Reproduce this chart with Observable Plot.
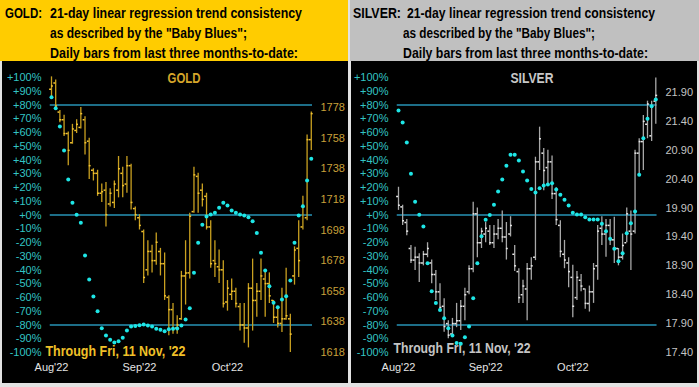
<!DOCTYPE html>
<html><head><meta charset="utf-8">
<script src="https://cdn.jsdelivr.net/npm/d3@7"></script>
<script src="https://cdn.jsdelivr.net/npm/@observablehq/plot@0.6"></script>
<style>
html,body{margin:0;padding:0;}
body{width:699px;height:387px;background:#e2e2e2;position:relative;overflow:hidden;}
.hdr{position:absolute;top:0;height:61px;overflow:hidden;}
.hdr div{position:absolute;font-family:"Liberation Sans",Arial,sans-serif;font-weight:bold;font-size:14.5px;line-height:20px;color:#000;white-space:nowrap;transform-origin:0 0;}
.panel{position:absolute;top:61px;width:346px;height:322px;background:#000;}
.panel svg{position:absolute;left:0;top:0;}
</style></head><body>
<div class="hdr" style="left:0;width:348px;background:#FFCC00;">
  <div data-w="37" style="left:5px;top:3px;">GOLD:</div>
  <div data-w="252" style="left:50px;top:3px;">21-day linear regression trend consistency</div>
  <div data-w="197" style="left:50px;top:23px;">as described by the "Baby Blues";</div>
  <div data-w="248" style="left:50px;top:43px;">Daily bars from last three months-to-date:</div>
</div>
<div class="hdr" style="left:350px;width:349px;background:#C0C0C0;">
  <div data-w="48" style="left:3px;top:3px;">SILVER:</div>
  <div data-w="248" style="left:57px;top:3px;">21-day linear regression trend consistency</div>
  <div data-w="192" style="left:53px;top:23px;">as described by the "Baby Blues";</div>
  <div data-w="245" style="left:53px;top:43px;">Daily bars from last three months-to-date:</div>
</div>
<div class="panel" id="gold" style="left:2px;"></div>
<div class="panel" id="silver" style="left:351px;"></div>
<script>
// ---------- data ----------
const pctTicks = [100,90,80,70,60,50,40,30,20,10,0,-10,-20,-30,-40,-50,-60,-70,-80,-90,-100];
const refLevels = [80, 0, -80];
const monthTickIdx = [0, 21, 42];
const monthLabels = ["Aug'22", "Sep'22", "Oct'22"];
const throughText = "Through Fri, 11 Nov, '22";

const goldPriceTicks = [1778,1758,1738,1718,1698,1678,1658,1638,1618];
const goldHigh  = [1798,1796,1776,1773,1762,1767,1770,1778,1772,1758,1738,1737,1728,1729,1725,1730,1746,1739,1746,1741,1713,1708,1698,1691,1688,1696,1686,1683,1655,1650,1642,1671,1691,1709,1739,1735,1728,1722,1704,1691,1685,1678,1665,1666,1660,1650,1650,1663,1679,1663,1679,1671,1670,1652,1648,1660,1673,1643,1687,1704,1720,1760,1775];
const goldLow   = [1784,1776,1768,1759,1740,1754,1761,1764,1747,1731,1730,1720,1716,1700,1713,1712,1719,1719,1722,1711,1704,1698,1663,1668,1670,1675,1668,1652,1629,1630,1630,1639,1649,1666,1709,1709,1713,1698,1673,1667,1663,1647,1645,1652,1647,1632,1624,1621,1632,1641,1652,1641,1650,1637,1634,1631,1639,1618,1662,1667,1698,1704,1750];
const goldOpen  = [1790,1794,1775,1770,1761,1755,1763,1765,1770,1756,1737,1735,1722,1724,1715,1716,1724,1735,1728,1740,1712,1706,1697,1672,1684,1678,1684,1676,1654,1646,1634,1640,1668,1670,1710,1733,1724,1720,1700,1678,1674,1672,1651,1656,1658,1648,1636,1634,1660,1652,1658,1666,1663,1652,1641,1637,1640,1640,1668,1686,1700,1706,1757];
const goldClose = [1792,1779,1770,1761,1750,1764,1767,1774,1755,1740,1735,1722,1723,1708,1722,1728,1738,1727,1740,1716,1708,1701,1667,1684,1678,1690,1676,1655,1646,1633,1636,1668,1670,1707,1734,1722,1718,1700,1676,1676,1672,1650,1660,1658,1650,1636,1634,1660,1652,1658,1668,1663,1655,1641,1637,1640,1642,1630,1685,1678,1713,1757,1774];
const goldBlues = [85.6,77.7,64.4,46.9,25.8,8.9,0.1,-5.7,-29.5,-46.9,-59.3,-70,-82.3,-87.6,-90.8,-92.7,-91.8,-89.3,-84,-81.1,-80.8,-80.1,-79.6,-80.4,-81.1,-82.8,-83.5,-84.5,-83,-82.8,-82.5,-80.4,-76,-67.8,-42,-20.2,-7.1,-1.1,0.4,1.6,5.2,8.9,6.9,3.3,1.6,0.4,-0.4,-1.6,-4.5,-13,-27.5,-40.4,-51.8,-63.9,-67,-61.5,-59,-47.6,-20.2,-0.4,6.4,25.1,40.9];

const silverPriceTicks = [21.9,21.4,20.9,20.4,19.9,19.4,18.9,18.4,17.9,17.4];
const silverHigh  = [20.26,19.95,19.70,19.25,19.22,19.11,19.15,19.30,19.00,18.82,18.59,18.33,17.95,17.99,18.25,18.30,18.51,18.90,20.00,19.90,19.55,19.65,19.60,19.60,19.70,19.85,19.65,19.75,19.25,18.85,18.65,18.94,19.04,20.78,21.30,20.93,20.90,20.80,20.25,19.68,19.34,19.04,18.91,18.80,18.75,18.50,18.55,18.94,19.60,19.75,19.70,19.70,19.74,19.20,19.45,19.90,19.85,20.90,21.10,21.50,21.75,21.75,22.15];
const silverLow   = [19.86,19.60,19.42,18.94,18.82,18.61,18.90,19.04,18.59,18.30,18.13,17.75,17.64,17.66,17.83,17.78,17.95,18.40,18.78,19.04,19.20,19.30,19.25,19.20,19.35,19.30,19.00,19.40,18.80,18.25,18.25,17.95,18.65,18.99,20.55,20.20,20.30,20.05,19.60,19.04,18.85,18.52,18.00,18.30,18.45,18.15,18.10,18.25,18.65,19.25,19.05,19.25,18.94,18.90,19.00,19.30,18.82,19.45,20.50,20.55,21.10,21.05,21.35];
const silverOpen  = [20.10,19.92,19.65,19.20,19.00,19.05,18.95,19.10,18.95,18.75,18.45,18.20,17.90,17.72,17.90,17.95,18.20,18.45,18.85,19.80,19.30,19.45,19.50,19.30,19.45,19.55,19.40,19.45,19.10,18.80,18.40,18.50,18.85,19.05,20.70,20.85,20.60,20.70,20.15,19.60,19.10,18.95,18.70,18.35,18.65,18.50,18.25,18.45,18.90,19.55,19.45,19.60,19.35,19.20,19.05,19.30,19.50,19.50,20.85,21.05,21.35,21.15,21.75];
const silverClose = [19.95,19.68,19.50,19.00,19.05,18.95,19.10,19.20,18.75,18.45,18.18,17.85,17.70,17.90,17.95,18.20,18.40,18.85,19.80,19.30,19.50,19.55,19.30,19.45,19.55,19.40,19.20,19.60,18.90,18.35,18.55,18.85,18.90,20.70,21.10,20.55,20.70,20.15,19.70,19.15,19.00,18.80,18.20,18.70,18.55,18.25,18.45,18.85,19.50,19.45,19.60,19.35,19.20,19.05,19.25,19.80,19.45,20.85,21.05,21.40,21.70,21.65,21.85];
const silverBlues = [76,67.3,52.7,30,9.6,0.1,-8.4,-35,-55.4,-64,-69,-75,-82.3,-87.6,-93,-93.7,-88.9,-81.1,-60.5,-35,-15.4,-3.5,0,7.4,17.1,25.8,35.8,43.8,43.8,39.6,31.6,25.1,19,16.4,19.5,21.5,22.2,23.1,18.5,14.7,11.1,6.9,1.6,0.4,0.4,-1.6,-3.3,-3.3,-3.3,-6.4,-11.8,-17.3,-24.6,-33.6,-27.8,-13.2,-6,2.5,29.2,55.9,70,79.1,84];

// ---------- header text fitting ----------
document.querySelectorAll(".hdr div[data-w]").forEach(d => {
  const w = d.getBoundingClientRect().width;
  d.style.transform = `scaleX(${(+d.dataset.w) / w})`;
});

// ---------- drawing ----------
const W = 346, H = 322;

function fitText(svg, str, len) {
  svg.querySelectorAll("text").forEach(t => {
    if (t.textContent === str) {
      t.setAttribute("textLength", len);
      t.setAttribute("lengthAdjust", "spacingAndGlyphs");
    }
  });
}

function drawPanel(el, c) {
  const n = c.blues.length;
  const idx = d3.range(n);
  const common = {
    width: W, height: H, marginLeft: c.mL, marginRight: c.mR, marginTop: 10, marginBottom: 24,
    style: {background: "transparent", fontFamily: "Liberation Sans, Arial, sans-serif", fontSize: "11px", overflow: "visible"}
  };
  const xs = {domain: [0, n - 1], range: c.xRange, axis: null};
  const yPct = {domain: [-100, 100], range: [291, 16], axis: null};

  const layerA = Plot.plot({
    ...common, x: xs, y: yPct,
    marks: [
      Plot.ruleY(refLevels, {y: d => d, x1: -0.3, x2: n - 1 + 0.3, stroke: "#2793b6", strokeWidth: 1.5}),
      Plot.axisY(pctTicks, {anchor: "left", tickSize: 0, tickPadding: 3, fill: "#33c4c4", fontSize: 11,
        tickFormat: d => (d >= 0 ? "+" : "") + d + "%"}),
      Plot.axisX(monthTickIdx, {anchor: "bottom", tickSize: 0, tickPadding: 4, fill: "#e4e4e4", fontSize: 11,
        tickFormat: d => monthLabels[monthTickIdx.indexOf(d)]}),
      Plot.text([c.name], {frameAnchor: "top", dx: c.titleDx, dy: 7, lineAnchor: "middle", fill: c.titleColor,
        fontWeight: "bold", fontSize: 14, fontFamily: "Liberation Sans, Arial, sans-serif"}),
      Plot.text([throughText], {frameAnchor: "bottom-left", textAnchor: "start", lineAnchor: "middle",
        dx: c.thDx, dy: c.thDy, fill: c.thColor, fontWeight: "bold", fontSize: 15.5, fontFamily: "Liberation Sans, Arial, sans-serif"})
    ]
  });
  fitText(layerA, c.name, c.titleW);
  fitText(layerA, throughText, c.thW);
  const layerB = Plot.plot({
    ...common, x: xs, y: {domain: c.priceDomain, range: c.priceRange, axis: null},
    marks: [
      Plot.ruleX(idx, {x: i => i, y1: i => c.low[i], y2: i => c.high[i], stroke: c.barColor, strokeWidth: 1.3}),
      Plot.ruleY(idx, {y: i => c.open[i], x1: i => i - 0.45, x2: i => i, stroke: c.tickColor, strokeWidth: 1.5}),
      Plot.ruleY(idx, {y: i => c.close[i], x1: i => i, x2: i => i + 0.45, stroke: c.tickColor, strokeWidth: 1.5}),
      Plot.axisY(c.priceTicks, {anchor: "right", tickSize: 0, tickPadding: 3, fill: c.priceColor, fontSize: 11,
        tickFormat: c.priceFmt})
    ]
  });
  const layerC = Plot.plot({
    ...common, x: xs, y: yPct,
    marks: [
      Plot.dot(idx, {x: i => i, y: i => c.blues[i], r: 2, fill: "#1ee6e6", stroke: "none"})
    ]
  });
  el.append(layerA, layerB, layerC);
}

drawPanel(document.getElementById("gold"), {
  name: "GOLD", titleColor: "#d6a62a", titleDx: 3, titleW: 33,
  thColor: "#f0c028", thDx: 1, thDy: -8, thW: 140,
  mL: 42, mR: 31, xRange: [49, 49 + 4.19 * 62],
  priceDomain: [1618, 1778], priceRange: [291, 46], priceTicks: goldPriceTicks, priceFmt: d => String(d),
  priceColor: "#c9a03a", barColor: "#c9a020", tickColor: "#f4c431",
  high: goldHigh, low: goldLow, open: goldOpen, close: goldClose, blues: goldBlues
});
drawPanel(document.getElementById("silver"), {
  name: "SILVER", titleColor: "#c8c8c8", titleDx: 5, titleW: 43,
  thColor: "#c4c4c4", thDx: 2, thDy: -11, thW: 137,
  mL: 40, mR: 35, xRange: [47, 47 + 4.15 * 62],
  priceDomain: [17.4, 21.9], priceRange: [291, 31], priceTicks: silverPriceTicks, priceFmt: d3.format(".2f"),
  priceColor: "#c4c4c4", barColor: "#a8a8a8", tickColor: "#e8e8e8",
  high: silverHigh, low: silverLow, open: silverOpen, close: silverClose, blues: silverBlues
});
</script>
</body></html>
